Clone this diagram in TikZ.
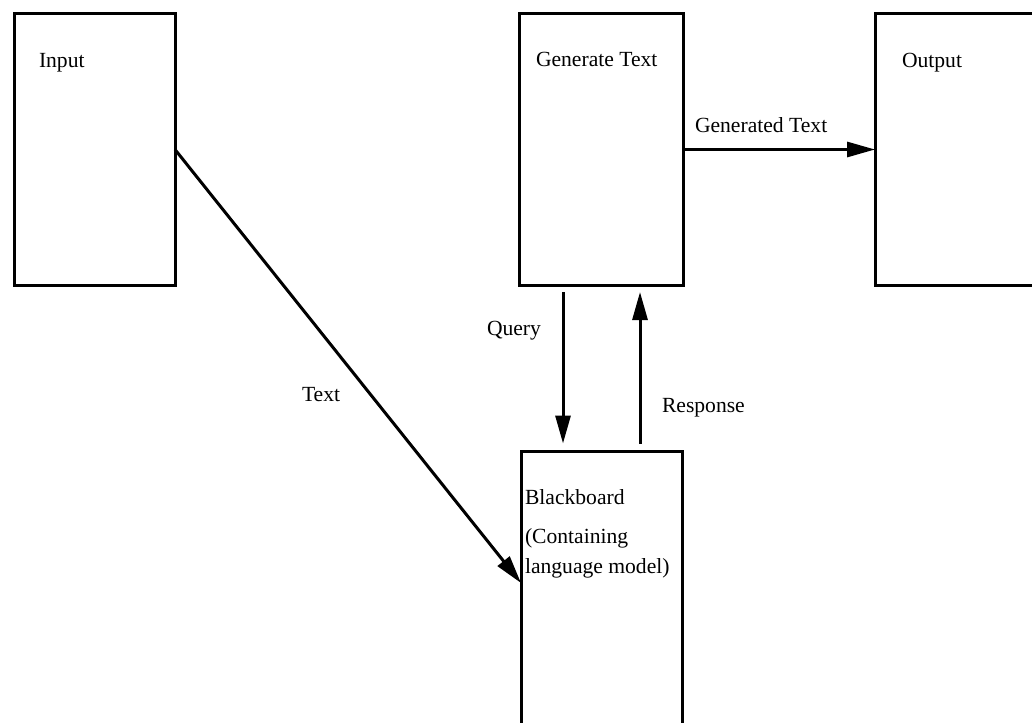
\documentclass[tikz,border=0pt]{standalone}
\usepackage{fontspec}
\setmainfont{Liberation Serif}
\usetikzlibrary{arrows.meta}
\begin{document}
\begin{tikzpicture}[x=1pt,y=-1pt,
  box/.style={draw=black,line width=3pt,inner sep=0pt,outer sep=0pt,anchor=north west},
  lbl/.style={font=\fontsize{21.6pt}{26pt}\selectfont,anchor=base west,inner sep=0pt,outer sep=0pt},
  arr/.style={line width=3pt,-{Triangle[length=28pt,width=15pt]}}]
\useasboundingbox (0,0) rectangle (1032,722);
\fill[white] (0,0) rectangle (1032,722);
\clip (0,0) rectangle (1032,722);
% boxes
\node[box,minimum width=161pt,minimum height=271pt] (inp) at (14,14) {};
\node[box,minimum width=164pt,minimum height=271pt] (gen) at (519,14) {};
\node[box,minimum width=200pt,minimum height=271pt] (out) at (875,14) {};
\node[box,minimum width=161pt,minimum height=300pt] (bb) at (521,451.5) {};
% box texts
\node[lbl] (tinp) at (39,68) {Input};
\node[lbl] (tgen) at (536,67) {Generate Text};
\node[lbl] (tout) at (902,68) {Output};
\node[lbl] (tbb1) at (525,504) {Blackboard};
\node[lbl] (tbb2) at (525,543) {(Containing};
\node[lbl] (tbb3) at (525,573) {language model)};
% helper coordinates
\coordinate (qx) at (563,0);
\coordinate (rx) at (640,0);
\coordinate (dy) at (0,583);
% connectors
\draw[arr] (inp.east) -- (bb.west |- dy);
\draw[arr] (gen.east) -- (out.west);
\draw[arr,shorten <=7pt,shorten >=8pt] (gen.south -| qx) -- (bb.north -| qx);
\draw[arr,shorten <=8pt,shorten >=7pt] (bb.north -| rx) -- (gen.south -| rx);
% connector labels
\node[lbl] (ltext) at (302,401) {Text};
\node[lbl] (lgen) at (695,133) {Generated Text};
\node[lbl] (lq) at (487,335) {Query};
\node[lbl] (lr) at (662,412) {Response};
\end{tikzpicture}
\end{document}
